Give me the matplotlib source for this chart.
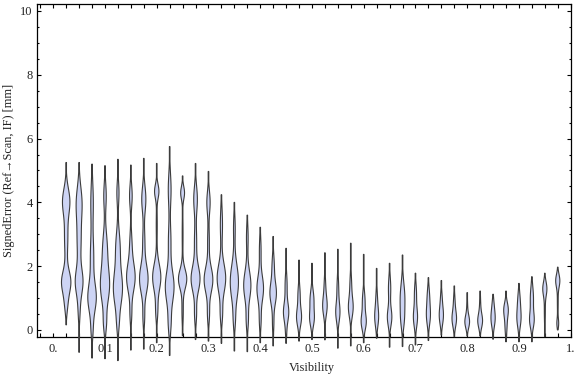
import numpy as np
import matplotlib
matplotlib.use("Agg")
import matplotlib.pyplot as plt
from matplotlib.ticker import FixedLocator, MultipleLocator

# ---------------- data ----------------
visibility = [0.025, 0.05, 0.075, 0.1, 0.125, 0.15, 0.175, 0.2, 0.225, 0.25,
              0.275, 0.3, 0.325, 0.35, 0.375, 0.4, 0.425, 0.45, 0.475, 0.5,
              0.525, 0.55, 0.575, 0.6, 0.625, 0.65, 0.675, 0.7, 0.725, 0.75,
              0.775, 0.8, 0.825, 0.85, 0.875, 0.9, 0.925, 0.95, 0.975]

err_max = [5.25, 5.25, 5.20, 5.15, 5.35, 5.17, 5.38, 5.22, 5.75, 4.83,
           5.22, 4.97, 4.24, 4.00, 3.60, 3.22, 2.93, 2.56, 2.19, 2.09,
           2.42, 2.53, 2.72, 2.37, 1.93, 2.09, 2.35, 1.78, 1.64, 1.55,
           1.38, 1.17, 1.22, 1.12, 1.22, 1.46, 1.67, 1.78, 1.97]

err_min = [0.16, -0.70, -0.88, -0.90, -0.96, -0.63, -0.60, -0.40, -0.80, -0.18,
           -0.30, -0.35, -0.42, -0.66, -0.68, -0.40, -0.50, -0.42, -0.35, -0.30,
           -0.31, -0.57, -0.50, -0.40, -0.26, -0.54, -0.52, -0.47, -0.33, -0.16,
           -0.21, -0.19, -0.19, -0.29, -0.37, -0.37, -0.37, -0.21, 0.00]

# density modes of each violin: centre, spread, relative width
mode_centers = [
    [4.05, 2.9, 1.5, 0.8], [4.0, 2.8, 1.5, 0.6], [4.0, 2.3, 1.0, 0.0],
    [4.2, 2.6, 1.4, 0.2], [4.3, 2.6, 1.3, 0.2], [4.2, 2.7, 1.65, 0.5],
    [4.1, 2.8, 1.6, 0.4], [4.35, 3.3, 1.65, 0.6], [4.4, 2.8, 1.35, 0.2],
    [4.3, 3.0, 1.6, 0.6], [4.1, 2.8, 1.6, 0.5], [4.0, 2.8, 1.57, 0.5],
    [3.3, 1.62, 0.5], [3.2, 1.5, 0.3], [2.9, 1.4, 0.3], [2.5, 1.3, 0.3],
    [2.0, 1.15, 0.2], [1.4, 0.55, -0.1], [1.1, 0.4], [0.95, 0.35],
    [1.4, 0.75], [1.3, 0.55], [1.4, 0.7], [0.9, 0.25], [1.0, 0.4],
    [1.3, 0.4], [1.0, 0.3], [1.15, 0.4], [1.05, 0.45], [1.0, 0.45],
    [0.9, 0.35], [0.7, 0.25], [0.8, 0.28], [0.75, 0.33], [0.65, 0.15],
    [0.9, 0.35], [1.0, 0.3], [1.3, 0.6], [1.55, 0.9, 0.2]]

mode_spreads = [
    [0.40, 0.60, 0.35, 0.30], [0.50, 0.60, 0.40, 0.35], [0.60, 0.60, 0.45, 0.30],
    [0.40, 0.50, 0.55, 0.30], [0.35, 0.50, 0.55, 0.30], [0.35, 0.40, 0.45, 0.30],
    [0.40, 0.40, 0.45, 0.30], [0.22, 0.50, 0.42, 0.30], [0.50, 0.50, 0.50, 0.35],
    [0.20, 0.60, 0.30, 0.40], [0.40, 0.45, 0.40, 0.30], [0.35, 0.40, 0.40, 0.30],
    [0.50, 0.45, 0.30], [0.40, 0.55, 0.30], [0.40, 0.45, 0.30], [0.40, 0.40, 0.30],
    [0.35, 0.35, 0.30], [0.35, 0.30, 0.20], [0.30, 0.28], [0.30, 0.25],
    [0.30, 0.30], [0.35, 0.30], [0.35, 0.30], [0.30, 0.25], [0.30, 0.30],
    [0.35, 0.28], [0.45, 0.30], [0.30, 0.30], [0.30, 0.30], [0.25, 0.28],
    [0.25, 0.25], [0.30, 0.20], [0.30, 0.22], [0.25, 0.25], [0.22, 0.30],
    [0.30, 0.28], [0.35, 0.25], [0.22, 0.40], [0.20, 0.40, 0.15]]

mode_widths = [
    [4.2, 2.0, 5.5, 1.5], [3.3, 2.3, 4.5, 1.0], [1.5, 2.0, 5.0, 1.0],
    [1.5, 2.5, 5.5, 1.5], [1.3, 2.5, 5.5, 1.0], [1.6, 1.2, 5.2, 1.0],
    [2.5, 1.2, 5.2, 1.0], [2.6, 0.6, 5.0, 1.2], [1.7, 1.5, 5.3, 1.5],
    [2.3, 0.5, 5.0, 0.8], [2.2, 1.3, 5.4, 1.2], [2.0, 1.0, 5.3, 1.2],
    [1.3, 5.2, 1.3], [1.0, 5.0, 1.0], [1.0, 4.4, 1.2], [1.0, 4.0, 1.0],
    [1.3, 3.9, 0.8], [1.2, 3.2, 0.5], [1.3, 3.0], [2.3, 2.6],
    [0.8, 2.7], [1.0, 2.5], [1.0, 2.8], [1.6, 3.0], [0.8, 2.3],
    [1.4, 2.7], [2.8, 1.5], [1.2, 2.5], [1.3, 2.3], [0.8, 2.5],
    [0.8, 2.7], [0.5, 2.7], [0.6, 2.8], [1.0, 2.3], [2.5, 1.2],
    [1.4, 2.3], [1.9, 2.6], [2.4, 0.6], [2.4, 0.5, 1.0]]

x_tick_labels = ["0.", "0.1", "0.2", "0.3", "0.4", "0.5", "0.6", "0.7", "0.8", "0.9", "1."]
y_tick_labels = ["0", "2", "4", "6", "8", "10"]

# ---------------- figure ----------------
serif = ["Liberation Serif", "DejaVu Serif"]
plt.rcParams["font.family"] = serif

fig = plt.figure(figsize=(5.76, 3.77), dpi=100)
ax = fig.add_axes([0.0637, 0.1053, 0.9271, 0.8833])
ax.set_xlim(-0.032, 1.0)
ax.set_ylim(-0.23, 10.21)

PX = 0.82 / 517.4          # width unit in x data units
fill_col = "#CDD4F4"
edge_col = "#3c3c3c"

for xc, lo, hi, mus, sds, ws in zip(visibility, err_min, err_max,
                                    mode_centers, mode_spreads, mode_widths):
    y = np.linspace(lo, hi, 400)
    w = np.zeros_like(y)
    for m, s, a in zip(mus, sds, ws):
        w += a * np.exp(-0.5 * ((y - m) / s) ** 2)
    w = np.maximum(w, 0.35) * PX
    xs = np.concatenate([xc - w, (xc + w)[::-1]])
    ys = np.concatenate([y, y[::-1]])
    ax.fill(xs, ys, facecolor=fill_col, edgecolor=edge_col, linewidth=0.8,
            clip_on=False, zorder=3)

# ticks
ax.xaxis.set_major_locator(FixedLocator([i / 10 for i in range(11)]))
ax.set_xticklabels(x_tick_labels)
ax.xaxis.set_minor_locator(MultipleLocator(0.025))
ax.yaxis.set_major_locator(FixedLocator([0, 2, 4, 6, 8, 10]))
ax.set_yticklabels(y_tick_labels)
ax.yaxis.set_minor_locator(MultipleLocator(0.5))

ax.tick_params(axis="x", which="both", direction="in", top=True, bottom=True,
               length=3.2, width=0.8, labelsize=9, pad=4, colors="black",
               labelcolor="#222222")
ax.tick_params(axis="y", which="major", direction="in", left=True, right=True,
               length=3.0, width=0.8, labelsize=9, pad=3, labelcolor="#222222")
ax.tick_params(axis="y", which="minor", direction="in", left=True, right=True,
               length=1.7, width=0.8)

for sp in ax.spines.values():
    sp.set_linewidth(0.9)
    sp.set_color("black")
    sp.set_zorder(2)

ax.set_xlabel("Visibility", fontsize=8.8, color="#222222")
ax.xaxis.set_label_coords(0.5155, -0.075)
ax.set_ylabel("SignedError (Ref\u2192Scan, IF) [mm]", fontsize=8.8, color="#222222")
ax.yaxis.set_label_coords(-0.040, 0.5)

fig.savefig("out.png", dpi=100)
